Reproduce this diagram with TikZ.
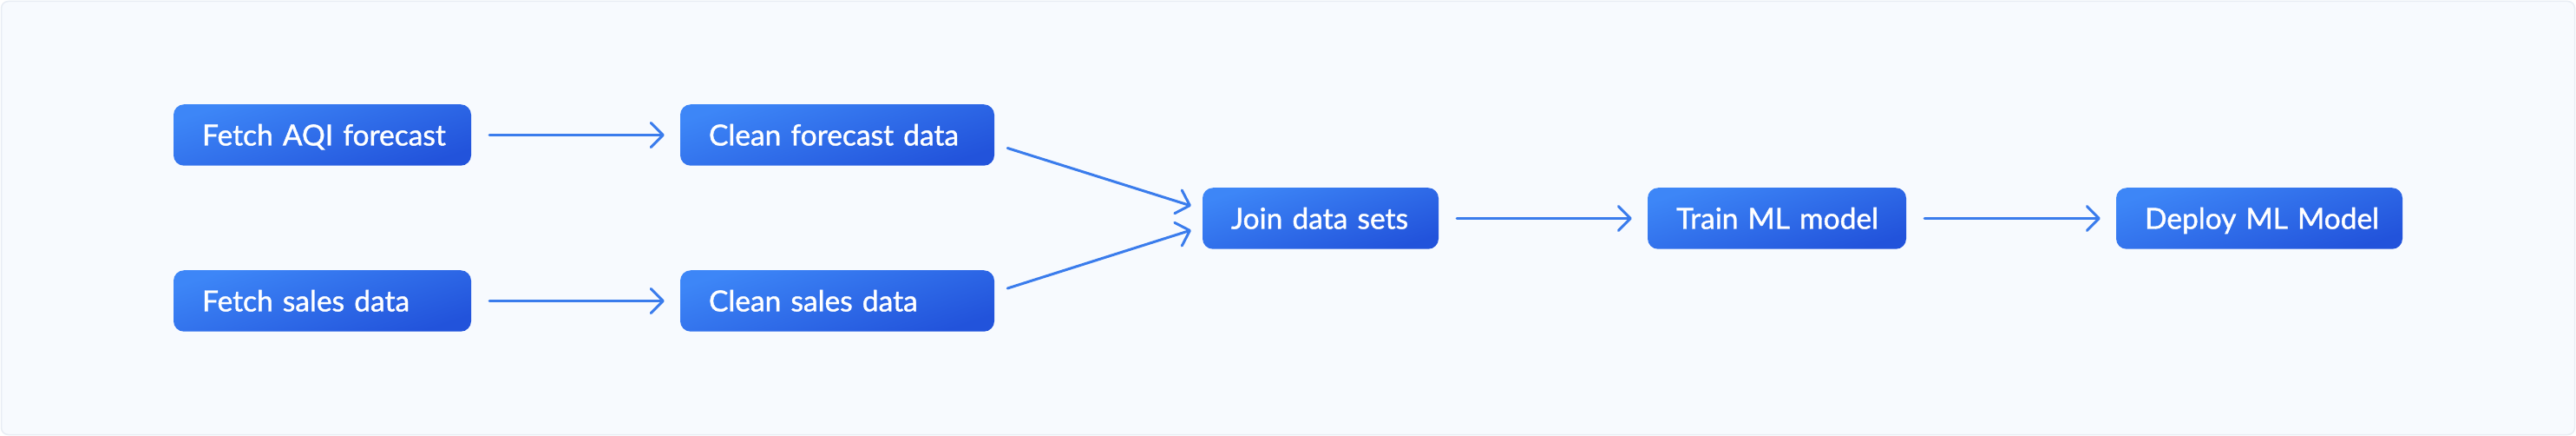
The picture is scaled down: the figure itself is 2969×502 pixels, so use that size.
\documentclass[tikz,border=0pt]{standalone}
\usepackage{fontspec}
\setmainfont{Lato}
\newfontfamily\boxfont{Lato}[FakeBold=1.2]
\usetikzlibrary{arrows.meta,calc}
\definecolor{bgfill}{HTML}{F7FAFE}
\definecolor{bgline}{HTML}{E8EDF4}
\definecolor{boxlight}{HTML}{3D86F7}
\definecolor{boxdark}{HTML}{2253DB}
\definecolor{arrowc}{HTML}{3A7CEC}
\tikzset{
  stepbox/.style={rounded corners=12pt, top color=boxlight, bottom color=boxdark, shading angle=18,
    minimum height=70.5pt, inner sep=0pt, text=white, text height=24pt, text depth=0pt,
    font=\boxfont\fontsize{33.5}{40}\selectfont},
  leftbox/.style={stepbox, text width=#1-66pt, align=left, minimum width=#1},
  flow/.style={draw=arrowc, line width=3pt, line cap=round,
    -{Straight Barb[length=14pt,width=28pt,round]}},
  hflow/.style={flow, shorten <=21pt, shorten >=18pt}
}
\begin{document}
\begin{tikzpicture}[x=1pt,y=-1pt]
\useasboundingbox (0,0) rectangle (2969,502);
\draw[fill=bgfill, draw=bgline, line width=1.5pt, rounded corners=8pt] (1.5,1.5) rectangle (2967.5,500.5);
\node[leftbox=343pt] (fa) at (371.5,155.5) {\mbox{Fetch AQI forecast}};
\node[leftbox=362pt] (cf) at (965,155.5) {\mbox{Clean forecast data}};
\node[leftbox=343pt] (fs) at (371.5,346.5) {\mbox{Fetch sales data}};
\node[leftbox=362pt] (cs) at (965,346.5) {\mbox{Clean sales data}};
\node[leftbox=272pt] (jn) at (1522,251.5) {\mbox{Join data sets}};
\node[leftbox=298pt] (tr) at (2048,251.5) {\mbox{Train ML model}};
\node[leftbox=330pt] (dp) at (2604,251.5) {\mbox{Deploy ML Model}};
\draw[hflow] (fa) -- (cf);
\draw[hflow] (fs) -- (cs);
\draw[flow] ($(cf.east)+(15,15)$) -- ($(jn.west)+(-13,-14.5)$);
\draw[flow] ($(cs.east)+(15,-14.5)$) -- ($(jn.west)+(-13,13.5)$);
\draw[hflow] (jn) -- (tr);
\draw[hflow] (tr) -- (dp);
\end{tikzpicture}
\end{document}
